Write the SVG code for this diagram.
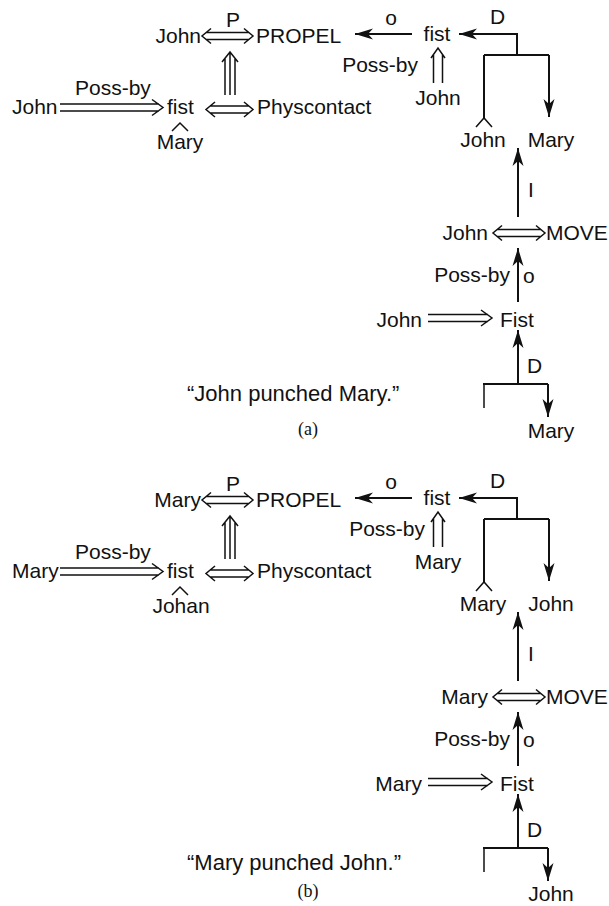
<svg xmlns="http://www.w3.org/2000/svg" width="609" height="906" viewBox="0 0 609 906">
<style>
text{font-family:"Liberation Sans",Arial,sans-serif;font-size:21px;fill:#111}
.m{text-anchor:middle}.e{text-anchor:end}
.sent{font-size:22px}
.cap{font-family:"Liberation Serif","Times New Roman",serif;font-size:18px}
.ln{stroke:#111;stroke-width:2;fill:none}
.th{stroke:#111;stroke-width:1.5;fill:none}
.ar{stroke:#111;stroke-width:2;fill:none;marker-end:url(#ah)}
</style>
<defs>
<marker id="ah" markerUnits="userSpaceOnUse" markerWidth="18" markerHeight="12" refX="18" refY="6" orient="auto">
<path d="M0,0.5 L18,6 L0,11.5 L5,6 Z" fill="#111"/>
</marker>
<g id="panel-conn">
<path class="th" d="M206,32.5 H249 M206,39.5 H249 M211,28.5 L202,36 L211,43.5 M244,28.5 L253,36 L244,43.5"/>
<path class="th" d="M230,95 V53 M225,95 V58 M235,95 V58 M222,62 L230,52 L238,62"/>
<path class="th" d="M60,104 H159 M60,111 H159 M152,99.5 L163,107.5 L152,115.5"/>
<path class="th" d="M210,106 H249 M210,113 H249 M215,102 L206,109.5 L215,117 M244,102 L253,109.5 L244,117"/>
<path class="th" d="M172,131 L180,123 L188,131"/>
<path class="ar" d="M412,34 H355"/>
<path class="ar" d="M517,55 V34 H459"/>
<path class="ln" d="M484,55 H549 M484,55 V118"/>
<path class="th" d="M476,127 L484,118 L492,127"/>
<path class="ar" d="M549,55 V117"/>
<path class="th" d="M433.5,83 V54 M442.5,83 V54 M431,58 L438,48 L445,58"/>
<path class="ar" d="M518,217 V148"/>
<path class="th" d="M497,229.5 H541 M497,236.5 H541 M502,225.5 L493,233 L502,240.5 M536,225.5 L545,233 L536,240.5"/>
<path class="ar" d="M518,302 V248"/>
<path class="th" d="M428,314.5 H488 M428,321.5 H488 M481,310 L492,318 L481,326"/>
<path class="ar" d="M518,384 V330"/>
<path class="ln" d="M483,384 H548"/>
<path class="th" d="M484,384 V408"/>
<path class="ar" d="M548,384 V417"/>
</g>
</defs>

<g id="panel-a">
<use id="connectors-a" href="#panel-conn"/>
<g id="a-john-actor"><text class="e" x="201" y="43">John</text></g>
<g id="a-p"><text class="m" x="233" y="27">P</text></g>
<g id="a-propel"><text x="256" y="43">PROPEL</text></g>
<g id="a-possby1"><text x="75" y="95">Poss-by</text></g>
<g id="a-john-left"><text x="12" y="114">John</text></g>
<g id="a-fist1"><text x="167" y="114">fist</text></g>
<g id="a-physcontact"><text x="257" y="114">Physcontact</text></g>
<g id="a-mary-under"><text class="m" x="180" y="149">Mary</text></g>
<g id="a-o1"><text class="m" x="391" y="25">o</text></g>
<g id="a-fist2"><text class="m" x="437" y="41">fist</text></g>
<g id="a-d1"><text x="490" y="24">D</text></g>
<g id="a-possby2"><text class="e" x="418" y="72">Poss-by</text></g>
<g id="a-john-under"><text class="m" x="438" y="105">John</text></g>
<g id="a-john-from"><text class="m" x="483" y="147">John</text></g>
<g id="a-mary-to"><text class="m" x="551" y="147">Mary</text></g>
<g id="a-i"><text x="528" y="197">I</text></g>
<g id="a-john-move"><text class="e" x="488" y="240">John</text></g>
<g id="a-move"><text x="546" y="240">MOVE</text></g>
<g id="a-possby3"><text class="e" x="510" y="282">Poss-by</text></g>
<g id="a-o2"><text x="523" y="283">o</text></g>
<g id="a-john-poss"><text class="e" x="422" y="327">John</text></g>
<g id="a-fist3"><text x="500" y="327">Fist</text></g>
<g id="a-d2"><text x="527" y="373">D</text></g>
<g id="a-mary-bottom"><text class="m" x="551" y="438">Mary</text></g>
<g id="a-sentence"><text class="sent" x="187" y="401">“John punched Mary.”</text></g>
<g id="a-label"><text class="m cap" x="308" y="435">(a)</text></g>
</g>

<g id="panel-b" transform="translate(0,464)">
<use id="connectors-b" href="#panel-conn"/>
<g id="b-mary-actor"><text class="e" x="201" y="43">Mary</text></g>
<g id="b-p"><text class="m" x="233" y="27">P</text></g>
<g id="b-propel"><text x="256" y="43">PROPEL</text></g>
<g id="b-possby1"><text x="75" y="95">Poss-by</text></g>
<g id="b-mary-left"><text x="12" y="114">Mary</text></g>
<g id="b-fist1"><text x="167" y="114">fist</text></g>
<g id="b-physcontact"><text x="257" y="114">Physcontact</text></g>
<g id="b-johan-under"><text class="m" x="181" y="149">Johan</text></g>
<g id="b-o1"><text class="m" x="391" y="25">o</text></g>
<g id="b-fist2"><text class="m" x="437" y="41">fist</text></g>
<g id="b-d1"><text x="490" y="24">D</text></g>
<g id="b-possby2"><text class="e" x="425" y="72">Poss-by</text></g>
<g id="b-mary-under"><text class="m" x="438" y="105">Mary</text></g>
<g id="b-mary-from"><text class="m" x="483" y="147">Mary</text></g>
<g id="b-john-to"><text class="m" x="551" y="147">John</text></g>
<g id="b-i"><text x="528" y="197">I</text></g>
<g id="b-mary-move"><text class="e" x="488" y="240">Mary</text></g>
<g id="b-move"><text x="546" y="240">MOVE</text></g>
<g id="b-possby3"><text class="e" x="510" y="282">Poss-by</text></g>
<g id="b-o2"><text x="523" y="283">o</text></g>
<g id="b-mary-poss"><text class="e" x="422" y="327">Mary</text></g>
<g id="b-fist3"><text x="500" y="327">Fist</text></g>
<g id="b-d2"><text x="527" y="373">D</text></g>
<g id="b-john-bottom"><text class="m" x="551" y="437">John</text></g>
<g id="b-sentence"><text class="sent" x="187" y="406">“Mary punched John.”</text></g>
<g id="b-label"><text class="m cap" x="308" y="433">(b)</text></g>
</g>
</svg>
